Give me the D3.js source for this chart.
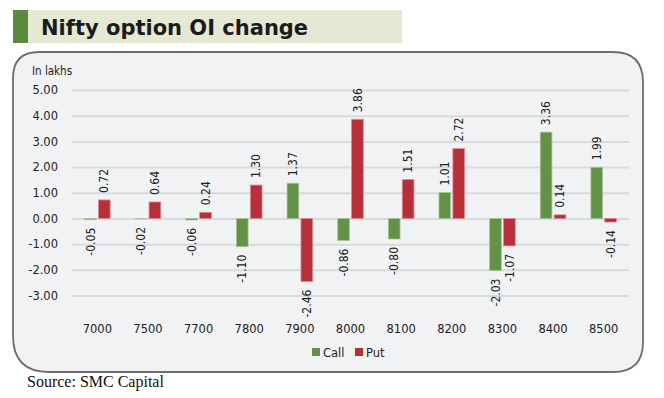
<!DOCTYPE html>
<html>
<head>
<meta charset="utf-8">
<script src="https://cdn.jsdelivr.net/npm/d3@7"></script>
<style>
  body { margin: 0; background: #fff; }
</style>
</head>
<body>
<div id="chart-container"></div>
<script>
// strikes on the x axis
const strikes = ["7000", "7500", "7700", "7800", "7900", "8000", "8100", "8200", "8300", "8400", "8500"];
// OI change in lakhs
const callValues = [-0.05, -0.02, -0.06, -1.10, 1.37, -0.86, -0.80, 1.01, -2.03, 3.36, 1.99];
const putValues = [0.72, 0.64, 0.24, 1.30, -2.46, 3.86, 1.51, 2.72, -1.07, 0.14, -0.14];
const seriesNames = ["Call", "Put"];
const yTicks = [-3, -2, -1, 0, 1, 2, 3, 4, 5];

const colors = { Call: "#629147", Put: "#b72f38" };
const outline = { Call: "#a9c59a", Put: "#d98d92" };

let svgWidth = 664;
let svgHeight = 398;

let svg = d3.select("#chart-container")
  .append("svg")
  .attr("width", svgWidth)
  .attr("height", svgHeight);

//Title bar
svg.append("rect")
  .attr("x", 13).attr("y", 10)
  .attr("width", 389).attr("height", 33)
  .attr("fill", "#e5e9d4");
svg.append("rect")
  .attr("x", 13).attr("y", 10)
  .attr("width", 15).attr("height", 33)
  .attr("fill", "#5b8a3e");
svg.append("text")
  .attr("x", 41).attr("y", 35)
  .style("font-family", "'DejaVu Sans', Verdana, sans-serif")
  .style("font-weight", "bold")
  .style("font-size", "21px")
  .attr("fill", "#1b1b1b")
  .text("Nifty option OI change");

//Rounded chart panel, corners are not all equal
let L = 13, T = 52, R = 643, B = 372;
let rTL = 26, rTR = 30, rBR = 30, rBL = 36;
let panelPath = `M${L},${T + rTL} Q${L},${T} ${L + rTL},${T}` +
  ` L${R - rTR},${T} Q${R},${T} ${R},${T + rTR}` +
  ` L${R},${B - rBR} Q${R},${B} ${R - rBR},${B}` +
  ` L${L + rBL},${B} Q${L},${B} ${L},${B - rBL} Z`;
svg.append("path")
  .attr("d", panelPath)
  .attr("fill", "#f1f2f4")
  .attr("stroke", "#6e6e6e")
  .attr("stroke-width", 1.8);

//Scales
let xScale = d3.scaleBand()
  .domain(strikes)
  .range([72, 629]);

let step = xScale.bandwidth();
let xInner = d3.scaleBand()
  .domain(seriesNames)
  .range([step / 2 - 12.8, step / 2 + 12.8])
  .paddingInner(0.16);

let yScale = d3.scaleLinear()
  .domain([-3, 5])
  .range([295.5, 90]);

//Grid lines
const yAxis = d3.axisLeft(yScale)
  .tickValues(yTicks)
  .tickSize(0)
  .tickPadding(14)
  .tickFormat(d => d.toFixed(2));

let gy = svg.append("g")
  .attr("transform", "translate(72,0)")
  .call(yAxis);
gy.select(".domain").remove();
gy.selectAll(".tick text")
  .style("font-family", "'DejaVu Sans', Verdana, sans-serif")
  .style("font-size", "11.5px")
  .attr("fill", "#222");
gy.selectAll(".tick").append("line")
  .attr("x1", 0).attr("x2", 629 - 72)
  .attr("stroke", "#d9dadc")
  .attr("stroke-width", 2);

svg.append("text")
  .attr("x", 32).attr("y", 75)
  .style("font-family", "'Liberation Sans Narrow', 'DejaVu Sans Condensed', sans-serif")
  .style("font-size", "11.5px")
  .attr("fill", "#222")
  .text("In lakhs");

//x axis labels
const xAxis = d3.axisBottom(xScale).tickSize(0).tickPadding(0);
let gx = svg.append("g")
  .attr("transform", "translate(0,325)")
  .call(xAxis);
gx.select(".domain").remove();
gx.selectAll(".tick text")
  .attr("dy", "0.71em")
  .style("font-family", "'DejaVu Sans', Verdana, sans-serif")
  .style("font-size", "11.5px")
  .attr("fill", "#222");

//Bars
let rows = [];
strikes.forEach((s, i) => {
  rows.push({ strike: s, series: "Call", value: callValues[i] });
  rows.push({ strike: s, series: "Put", value: putValues[i] });
});

svg.append("g")
  .selectAll("rect")
  .data(rows)
  .enter()
  .append("rect")
  .attr("x", d => xScale(d.strike) + xInner(d.series))
  .attr("y", d => yScale(Math.max(0, d.value)))
  .attr("width", xInner.bandwidth())
  .attr("height", d => Math.abs(yScale(d.value) - yScale(0)))
  .attr("fill", d => colors[d.series])
  .attr("stroke", d => outline[d.series])
  .attr("stroke-width", 0.8);

//Value labels, rotated
svg.append("g")
  .selectAll("text")
  .data(rows)
  .enter()
  .append("text")
  .attr("transform", d => {
    let cx = xScale(d.strike) + xInner(d.series) + xInner.bandwidth() / 2;
    let cy = d.value >= 0 ? yScale(d.value) - 7 : yScale(d.value) + 8;
    return `translate(${cx},${cy}) rotate(-90)`;
  })
  .attr("text-anchor", d => d.value >= 0 ? "start" : "end")
  .attr("dy", "0.35em")
  .style("font-family", "'Liberation Sans Narrow', 'DejaVu Sans Condensed', sans-serif")
  .style("font-size", "12px")
  .attr("fill", "#222")
  .text(d => d.value.toFixed(2));

//Legend
let legend = svg.append("g").attr("transform", "translate(312,348)");
let legendX = { Call: 0, Put: 43 };
seriesNames.forEach(name => {
  legend.append("rect")
    .attr("x", legendX[name]).attr("y", 0)
    .attr("width", 8).attr("height", 8)
    .attr("fill", colors[name]);
  legend.append("text")
    .attr("x", legendX[name] + 11).attr("y", 8.5)
    .style("font-family", "'DejaVu Sans', Verdana, sans-serif")
    .style("font-size", "11.5px")
    .attr("fill", "#222")
    .text(name);
});

//Source
svg.append("text")
  .attr("x", 27).attr("y", 387)
  .style("font-family", "'Liberation Serif', 'Times New Roman', serif")
  .style("font-size", "16px")
  .attr("fill", "#111")
  .text("Source: SMC Capital");
</script>
</body>
</html>
